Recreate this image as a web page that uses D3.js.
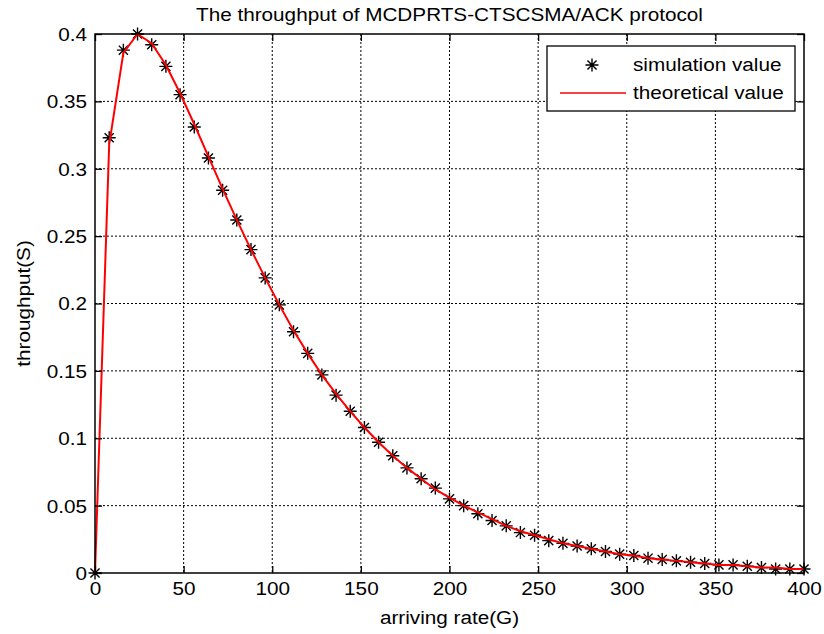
<!DOCTYPE html>
<html>
<head>
<meta charset="utf-8">
<script src="https://cdn.jsdelivr.net/npm/d3@7"></script>
<style>
  body { margin: 0; background: #fff; }
  svg { display: block; font-family: "Liberation Sans", Arial, Helvetica, sans-serif; }
</style>
</head>
<body>
<div class="visHolder"></div>
<script>
const xValues = [0, 8, 16, 24, 32, 40, 48, 56, 64, 72, 80, 88, 96, 104, 112, 120, 128, 136, 144, 152,
  160, 168, 176, 184, 192, 200, 208, 216, 224, 232, 240, 248, 256, 264, 272, 280, 288, 296, 304, 312,
  320, 328, 336, 344, 352, 360, 368, 376, 384, 392, 400];

const simulation = [0, 0.323, 0.388, 0.400, 0.392, 0.376, 0.355, 0.331, 0.308, 0.284, 0.262, 0.240,
  0.219, 0.199, 0.179, 0.163, 0.147, 0.132, 0.120, 0.108, 0.097, 0.087, 0.078, 0.070, 0.063, 0.055,
  0.050, 0.044, 0.039, 0.035, 0.030, 0.028, 0.024, 0.022, 0.020, 0.018, 0.016, 0.014, 0.013, 0.011,
  0.010, 0.009, 0.008, 0.007, 0.006, 0.006, 0.005, 0.004, 0.003, 0.003, 0.003];

const theoretical = [0, 0.318, 0.386, 0.400, 0.393, 0.377, 0.356, 0.333, 0.309, 0.285, 0.262, 0.240,
  0.219, 0.199, 0.180, 0.163, 0.147, 0.133, 0.120, 0.108, 0.097, 0.087, 0.078, 0.070, 0.062, 0.056,
  0.050, 0.045, 0.040, 0.035, 0.031, 0.028, 0.025, 0.022, 0.020, 0.018, 0.016, 0.014, 0.013, 0.011,
  0.010, 0.009, 0.008, 0.007, 0.006, 0.006, 0.005, 0.004, 0.004, 0.003, 0.003];

const xTicks = [0, 50, 100, 150, 200, 250, 300, 350, 400];
const yTicks = [0, 0.05, 0.1, 0.15, 0.2, 0.25, 0.3, 0.35, 0.4];
const yTickLabels = ['0', '0.05', '0.1', '0.15', '0.2', '0.25', '0.3', '0.35', '0.4'];
const seriesNames = ['simulation value', 'theoretical value'];

const W = 824;
const H = 634;
const margin = { top: 34, right: 20, bottom: 61, left: 95 };
const w = W - margin.left - margin.right;
const h = H - margin.top - margin.bottom;
const fontSize = 18;
const stretchK = 1.15;

function stretch(sel) {
  sel.each(function () {
    var len = this.getComputedTextLength();
    d3.select(this).attr('textLength', len * stretchK).attr('lengthAdjust', 'spacingAndGlyphs');
  });
}

function starPath(cx, cy, r) {
  var d = r * 0.7;
  return 'M' + (cx - r) + ',' + cy + 'H' + (cx + r) +
    'M' + cx + ',' + (cy - r) + 'V' + (cy + r) +
    'M' + (cx - d) + ',' + (cy - d) + 'L' + (cx + d) + ',' + (cy + d) +
    'M' + (cx - d) + ',' + (cy + d) + 'L' + (cx + d) + ',' + (cy - d);
}

var svgContainer = d3
  .select('.visHolder')
  .append('svg')
  .attr('width', W)
  .attr('height', H);

var g = svgContainer.append('g')
  .attr('transform', 'translate(' + margin.left + ',' + margin.top + ')');

const xScale = d3.scaleLinear().domain([0, 400]).range([0, w]);
const yScale = d3.scaleLinear().domain([0, 0.4]).range([h, 0]);

// dotted grid
g.append('g')
  .selectAll('line')
  .data(xTicks.slice(1, -1))
  .enter()
  .append('line')
  .attr('x1', d => xScale(d))
  .attr('x2', d => xScale(d))
  .attr('y1', 0)
  .attr('y2', h)
  .attr('stroke', '#000')
  .attr('stroke-width', 1)
  .attr('stroke-dasharray', '2,2');

g.append('g')
  .selectAll('line')
  .data(yTicks.slice(1, -1))
  .enter()
  .append('line')
  .attr('x1', 0)
  .attr('x2', w)
  .attr('y1', d => yScale(d))
  .attr('y2', d => yScale(d))
  .attr('stroke', '#000')
  .attr('stroke-width', 1)
  .attr('stroke-dasharray', '2,2');

// simulation stars
g.append('g')
  .selectAll('path')
  .data(simulation)
  .enter()
  .append('path')
  .attr('d', (d, i) => starPath(xScale(xValues[i]), yScale(d), 6.5))
  .attr('stroke', '#000')
  .attr('stroke-width', 1.4)
  .attr('fill', 'none');

// theoretical line
const line = d3.line()
  .x((d, i) => xScale(xValues[i]))
  .y(d => yScale(d));

g.append('path')
  .datum(theoretical)
  .attr('d', line)
  .attr('fill', 'none')
  .attr('stroke', '#ff0000')
  .attr('stroke-width', 2);

// axes
const xAxis = d3.axisBottom(xScale).tickValues(xTicks).tickSize(-7).tickPadding(9).tickFormat(d3.format('d'));
const yAxis = d3.axisLeft(yScale).tickValues(yTicks).tickSize(-7).tickPadding(8)
  .tickFormat((d, i) => yTickLabels[i]);

var gx = g.append('g').attr('transform', 'translate(0,' + h + ')').call(xAxis);
var gy = g.append('g').call(yAxis);
g.append('g').call(d3.axisTop(xScale).tickValues(xTicks).tickSize(-7).tickFormat(''));
g.append('g').attr('transform', 'translate(' + w + ',0)')
  .call(d3.axisRight(yScale).tickValues(yTicks).tickSize(-7).tickFormat(''));

g.selectAll('.domain').remove();
g.selectAll('.tick line').attr('stroke', '#000').attr('stroke-width', 1.3);
g.selectAll('.tick text')
  .attr('fill', '#000')
  .style('font-size', fontSize + 'px')
  .style('font-family', '"Liberation Sans", Arial, sans-serif');
gy.selectAll('.tick text').attr('dy', '0.36em');

g.append('rect')
  .attr('x', 0)
  .attr('y', 0)
  .attr('width', w)
  .attr('height', h)
  .attr('fill', 'none')
  .attr('stroke', '#000')
  .attr('stroke-width', 1.5);

// legend
var legend = g.append('g').attr('transform', 'translate(' + (547 - margin.left) + ',' + (46 - margin.top) + ')');

legend.append('rect')
  .attr('width', 248)
  .attr('height', 65)
  .attr('fill', '#fff')
  .attr('stroke', '#000')
  .attr('stroke-width', 1.3);

legend.append('path')
  .attr('d', starPath(45, 19, 6.5))
  .attr('stroke', '#000')
  .attr('stroke-width', 1.4)
  .attr('fill', 'none');

legend.append('line')
  .attr('x1', 13)
  .attr('x2', 79)
  .attr('y1', 47)
  .attr('y2', 47)
  .attr('stroke', '#ff0000')
  .attr('stroke-width', 1.3);

legend.selectAll('text')
  .data(seriesNames)
  .enter()
  .append('text')
  .attr('x', 86)
  .attr('y', (d, i) => 19 + i * 28)
  .attr('dy', '0.36em')
  .style('font-size', fontSize + 'px')
  .text(d => d);

// titles
svgContainer.append('text')
  .attr('x', margin.left + w / 2)
  .attr('y', 21)
  .attr('text-anchor', 'middle')
  .style('font-size', fontSize + 'px')
  .text('The throughput of MCDPRTS-CTSCSMA/ACK protocol');

svgContainer.append('text')
  .attr('x', margin.left + w / 2)
  .attr('y', 624)
  .attr('text-anchor', 'middle')
  .style('font-size', fontSize + 'px')
  .text('arriving rate(G)');

svgContainer.append('text')
  .attr('transform', 'rotate(-90)')
  .attr('x', -(margin.top + h / 2))
  .attr('y', 30)
  .attr('text-anchor', 'middle')
  .style('font-size', fontSize + 'px')
  .text('throughput(S)');

svgContainer.selectAll('text').call(stretch);
</script>
</body>
</html>
